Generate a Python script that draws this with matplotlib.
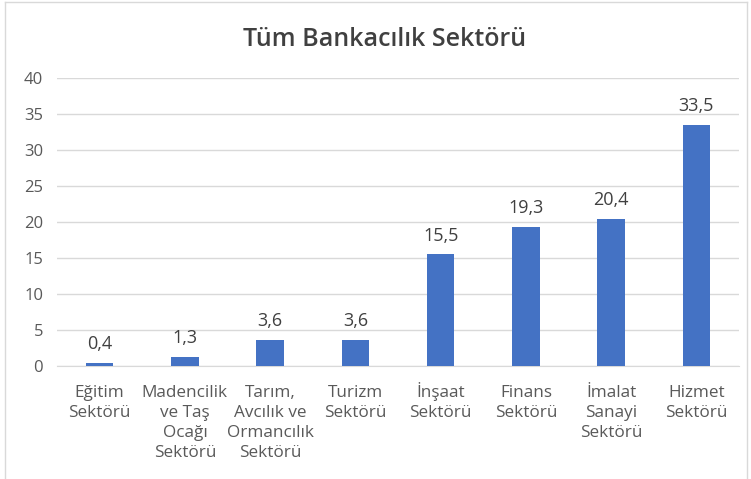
import matplotlib
matplotlib.use("Agg")
import matplotlib.pyplot as plt

categories = ["Eğitim\nSektörü", "Madencilik\nve Taş\nOcağı\nSektörü",
              "Tarım,\nAvcılık ve\nOrmancılık\nSektörü", "Turizm\nSektörü",
              "İnşaat\nSektörü", "Finans\nSektörü", "İmalat\nSanayi\nSektörü",
              "Hizmet\nSektörü"]
values = [0.4, 1.3, 3.6, 3.6, 15.5, 19.3, 20.4, 33.5]
value_labels = ["0,4", "1,3", "3,6", "3,6", "15,5", "19,3", "20,4", "33,5"]
yticks = [0, 5, 10, 15, 20, 25, 30, 35, 40]

plt.rcParams['font.family'] = ['Open Sans', 'DejaVu Sans']
W, H = 751, 479
fig = plt.figure(figsize=(W/100, H/100), dpi=100)
ax = fig.add_axes([57/W, 1-366/H, (739-57)/W, (366-78)/H])

x = list(range(len(categories)))
ax.bar(x, values, width=0.32, color="#4472C4", zorder=3)
for xi, v, lab in zip(x, values, value_labels):
    ax.annotate(lab, (xi, v), xytext=(0, 7), textcoords="offset points",
                ha="center", va="bottom", fontsize=13, color="#404040")

ax.set_xlim(-0.5, len(categories)-0.5)
ax.set_ylim(0, 40)
ax.set_yticks(yticks)
ax.set_yticklabels([str(t) for t in yticks], fontsize=12, color="#595959")
ax.set_xticks(x)
ax.set_xticklabels([""] * len(categories))
# category labels, one baseline-aligned line at a time
for xi, cat in zip(x, categories):
    for i, line in enumerate(cat.split("\n")):
        ax.annotate(line, xy=(xi, 0), xycoords=("data", "axes fraction"),
                    xytext=(0, -(31 + 20 * i)), textcoords="offset pixels",
                    ha="center", va="baseline", fontsize=12.3, color="#595959",
                    annotation_clip=False)
ax.tick_params(axis="both", length=0)
ax.tick_params(axis="y", pad=10)
ax.grid(axis="y", color="#D9D9D9", linewidth=1, zorder=0)
for s in ["top", "right", "left"]:
    ax.spines[s].set_visible(False)
ax.spines["bottom"].set_color("#D9D9D9")

fig.text(385/W, 1-39/H, "Tüm Bankacılık Sektörü", ha="center", va="center",
         fontsize=18, fontweight="semibold", color="#404040")

# light border on left, top, right
fig.add_artist(plt.Line2D([5/W, 5/W], [0, 1-2/H], transform=fig.transFigure, color="#D9D9D9", lw=1))
fig.add_artist(plt.Line2D([5/W, 747/W], [1-2/H, 1-2/H], transform=fig.transFigure, color="#D9D9D9", lw=1))
fig.add_artist(plt.Line2D([747/W, 747/W], [0, 1-2/H], transform=fig.transFigure, color="#D9D9D9", lw=1))

fig.savefig("out.png", dpi=100)
